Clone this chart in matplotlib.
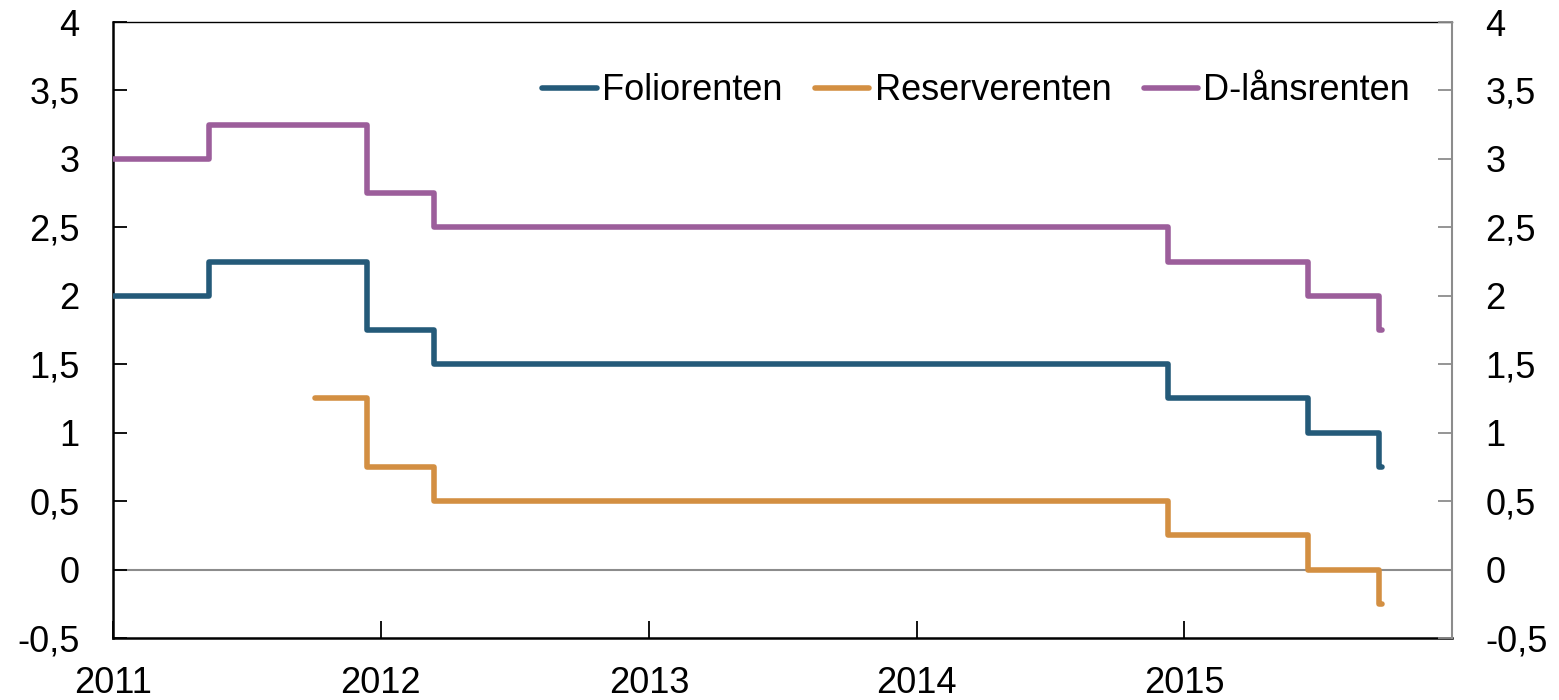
import numpy as np
import pandas as pd
import matplotlib.pyplot as plt

plt.rcParams['font.family'] = ['Liberation Sans', 'DejaVu Sans']

# rate change dates and levels (step series, value holds until next date)
folio_dates = ['2011-01-01', '2011-05-12', '2011-12-14', '2012-03-14',
               '2014-12-10', '2015-06-18', '2015-09-23', '2015-09-28']
folio_vals = [2.0, 2.25, 1.75, 1.5, 1.25, 1.0, 0.75, 0.75]

reserve_dates = ['2011-10-03', '2011-12-14', '2012-03-14',
                 '2014-12-10', '2015-06-18', '2015-09-23', '2015-09-28']
reserve_vals = [1.25, 0.75, 0.5, 0.25, 0.0, -0.25, -0.25]

dlan_dates = ['2011-01-01', '2011-05-12', '2011-12-14', '2012-03-14',
              '2014-12-10', '2015-06-18', '2015-09-23', '2015-09-28']
dlan_vals = [3.0, 3.25, 2.75, 2.5, 2.25, 2.0, 1.75, 1.75]

year_ticks = ['2011', '2012', '2013', '2014', '2015']
y_ticks = [-0.5, 0, 0.5, 1, 1.5, 2, 2.5, 3, 3.5, 4]

fig = plt.figure(figsize=(15.59, 7), dpi=100)
ax = fig.add_axes([113 / 1559, 62 / 700, (1452 - 113) / 1559, (638 - 22) / 700])

ax.axhline(0, color='#8c8c8c', lw=1.5, zorder=1)
ax.step(pd.to_datetime(folio_dates), folio_vals, where='post', color='#245a79', lw=4,
        solid_capstyle='round', solid_joinstyle='round', label='Foliorenten', zorder=3)
ax.step(pd.to_datetime(reserve_dates), reserve_vals, where='post', color='#d38f42', lw=4,
        solid_capstyle='round', solid_joinstyle='round', label='Reserverenten', zorder=3)
ax.step(pd.to_datetime(dlan_dates), dlan_vals, where='post', color='#9c5e9b', lw=4,
        solid_capstyle='round', solid_joinstyle='round', label='D-lånsrenten', zorder=3)

ax.set_xlim(pd.Timestamp('2011-01-01'), pd.Timestamp('2016-01-01'))
ax.set_ylim(-0.5, 4)
ax.set_xticks(pd.to_datetime([y + '-01-01' for y in year_ticks]))
ax.set_xticklabels(year_ticks)
ax.set_yticks(y_ticks)
fmt = lambda v: ('%g' % v).replace('.', ',')
ax.set_yticklabels([fmt(v) for v in y_ticks])

ax.spines['right'].set_visible(False)
ax.spines['top'].set_linewidth(1.0)
ax.spines['left'].set_linewidth(1.8)
ax.spines['bottom'].set_linewidth(1.8)
ax.tick_params(axis='y', direction='in', length=10, width=1.3, labelsize=26, pad=24)
ax.tick_params(axis='x', direction='in', length=12, width=1.3, labelsize=26, pad=20)

ax2 = ax.twinx()
ax2.set_ylim(-0.5, 4)
ax2.set_yticks(y_ticks)
ax2.set_yticklabels([fmt(v) for v in y_ticks])
for s in ['top', 'left', 'bottom']:
    ax2.spines[s].set_visible(False)
ax2.spines['right'].set_color('#8c8c8c')
ax2.spines['right'].set_linewidth(1.5)
ax2.tick_params(axis='y', direction='in', length=10, width=1.3, color='#8c8c8c',
                labelsize=26, pad=24)

ax.legend(loc='upper right', bbox_to_anchor=(0.985, 0.952), ncol=3, frameon=False,
          fontsize=26, handlelength=1.5, handletextpad=0.15, columnspacing=0.9,
          borderaxespad=0.2)

fig.savefig('out.png', dpi=100)
